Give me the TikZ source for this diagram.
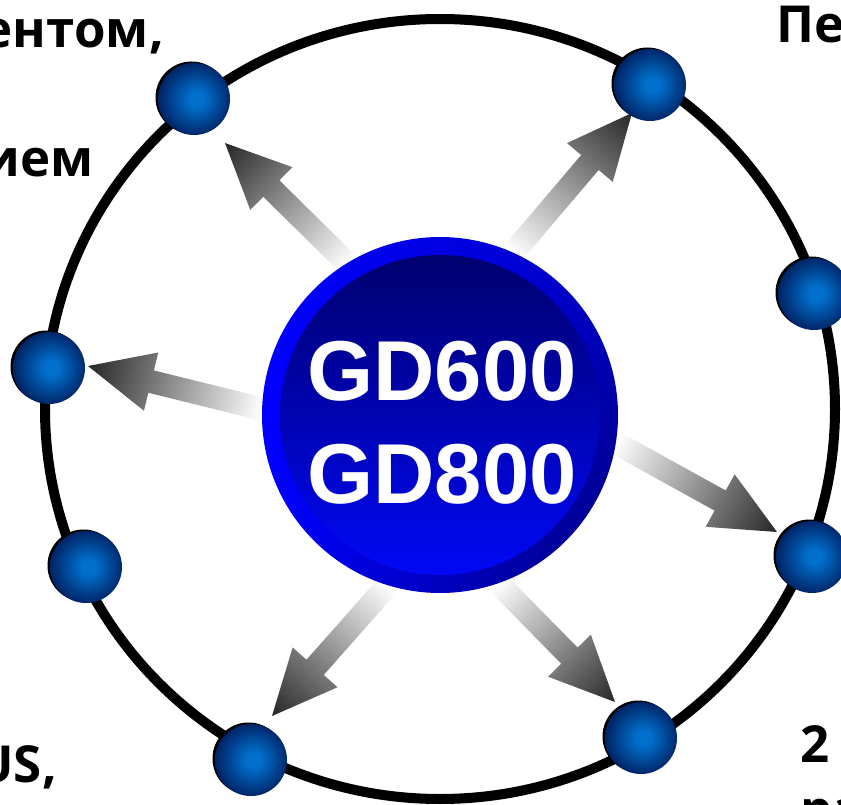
\documentclass[tikz,border=0pt]{standalone}
\usepackage{fontspec}
\newfontfamily\gdfont{Liberation Sans}
\newfontfamily\lblfont{Open Sans}
\usetikzlibrary{calc,shadows,shadings}
\definecolor{ballcen}{RGB}{0,112,204}
\definecolor{balledge}{RGB}{0,38,105}
\definecolor{gdbright}{RGB}{0,0,255}
\definecolor{gdmid}{RGB}{0,0,200}
\definecolor{gdnavy}{RGB}{0,0,128}
\definecolor{gdinnertop}{RGB}{0,0,110}
\definecolor{gdinnerbot}{RGB}{0,8,245}
\pgfdeclareradialshading{gdball}{\pgfpoint{2bp}{0bp}}{color(0bp)=(ballcen); color(5bp)=(ballcen); color(25bp)=(balledge); color(50bp)=(balledge)}
\tikzset{
  ball/.style={circle, minimum size=72pt, inner sep=0pt, shading=gdball,
    drop shadow={shadow xshift=-2.5pt, shadow yshift=1.5pt, fill=black, opacity=1}},
  arrowshade/.style={left color=white, middle color=black!40, right color=black!85},
  lbl/.style={inner sep=0pt, font=\lblfont\bfseries\fontsize{51}{58}\selectfont, text=black},
  gdtext/.style={inner sep=0pt, text=white, font=\gdfont\bfseries\fontsize{85}{103}\selectfont},
  ring/.style={line width=10pt, draw=black}
}
\newcommand\gradarrow[2]{%
  \path let \p1=(#1), \p2=(#2), \n1={atan2(\y2-\y1,\x2-\x1)}, \n2={veclen(\x2-\x1,\y2-\y1)} in
    \pgfextra{\xdef\GAang{\n1}\xdef\GAlen{\n2}\xdef\GAx{\x1}\xdef\GAy{\y1}};
  \begin{scope}[transform canvas={shift={(\GAx,\GAy)},rotate=\GAang}]
    \shade[arrowshade] (0pt,-11.5pt) -- (\GAlen-65pt,-11.5pt) -- (\GAlen-65pt,-30pt)
      -- (\GAlen,0pt) -- (\GAlen-65pt,30pt) -- (\GAlen-65pt,11.5pt) -- (0pt,11.5pt) -- cycle;
  \end{scope}}
\begin{document}
\begin{tikzpicture}[x=1pt,y=-1pt]
\useasboundingbox (0,0) rectangle (841,805);
\clip (0,0) rectangle (841,805);
\fill[white] (0,0) rectangle (841,805);

% outer ring
\draw[ring] (440,409) ellipse [x radius=395, y radius=390];

% arrow end points
\coordinate (tUL) at (348,264);  \coordinate (hUL) at (225,143);
\coordinate (tUR) at (513,253);  \coordinate (hUR) at (632,113);
\coordinate (tL)  at (262,409);  \coordinate (hL)  at (88,366);
\coordinate (tRL) at (616,443);  \coordinate (hRL) at (777,532);
\coordinate (tBL) at (388,585);  \coordinate (hBL) at (272,716);
\coordinate (tBR) at (498,583);  \coordinate (hBR) at (615,702);

\gradarrow{tUL}{hUL}
\gradarrow{tUR}{hUR}
\gradarrow{tL}{hL}
\gradarrow{tRL}{hRL}
\gradarrow{tBL}{hBL}
\gradarrow{tBR}{hBR}

% centre disc
\node[circle, minimum size=356pt, inner sep=0pt,
  upper left=gdbright, upper right=gdmid, lower left=gdbright, lower right=gdnavy] (gd) at (440,415) {};
\node[circle, minimum size=320pt, inner sep=0pt,
  top color=gdinnertop, bottom color=gdinnerbot] (gdin) at (440,415) {};
\node[gdtext, anchor=base] (gd1) at (442,400) {GD600};
\node[gdtext, anchor=base] (gd2) at (442,503) {GD800};

% balls
\node[ball] (b1) at (194,99) {};
\node[ball] (b2) at (650,85) {};
\node[ball] (b3) at (814,294) {};
\node[ball] (b4) at (49,368) {};
\node[ball] (b5) at (86,567) {};
\node[ball] (b6) at (812,557) {};
\node[ball] (b7) at (251,760) {};
\node[ball] (b8) at (641,738) {};

% labels (cut by the picture edge, as in the reference)
\node[lbl, anchor=base east] (t1) at (164,48) {ентом,};
\node[lbl, anchor=base east] (t2) at (94,177) {ием};
\node[lbl, anchor=base west] (t3) at (776,43) {Пе};
\node[lbl, anchor=base east] (t4) at (57,782) {US,};
\node[lbl, anchor=base west] (t5) at (800,762) {2};
\node[lbl, anchor=base west] (t6) at (800,827) {ра};
\end{tikzpicture}
\end{document}
